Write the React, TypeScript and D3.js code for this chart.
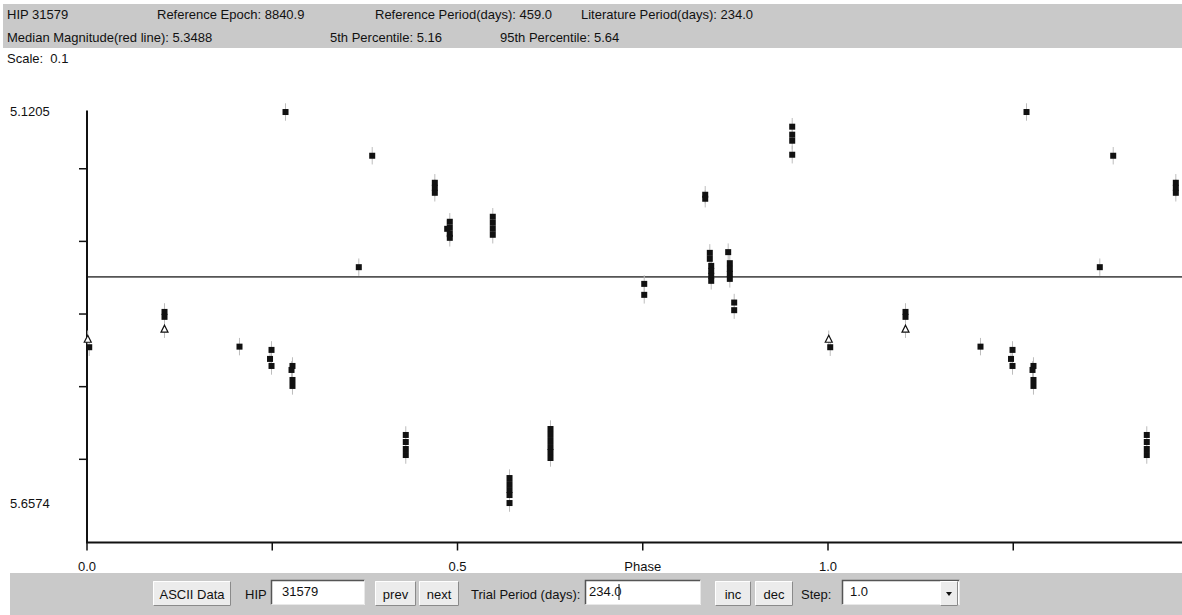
import React, { useEffect, useRef } from 'react';
import * as d3 from 'd3';

// phase-folded light curve of HIP 31579 (phase 0..1); points are repeated at phase+1
const squarePhase = [
  0.003, 0.1046, 0.1046, 0.2058, 0.249, 0.247, 0.249, 0.2773, 0.276, 0.2773, 0.2773,
  0.2679, 0.3668, 0.3849, 0.4694, 0.4694, 0.4694, 0.4896, 0.4896, 0.4896, 0.4896, 0.4861,
  0.5476, 0.5476, 0.5476, 0.5476, 0.4302, 0.4302, 0.4302, 0.4302,
  0.5702, 0.5702, 0.5702, 0.5702, 0.5702, 0.6255, 0.6255, 0.6255, 0.6255, 0.6255, 0.6255,
  0.752, 0.752, 0.8343, 0.8343, 0.8405, 0.8405, 0.8424, 0.8424, 0.8424, 0.8424,
  0.8653, 0.8675, 0.8675, 0.8675, 0.8675, 0.8734, 0.8734, 0.9517, 0.9517, 0.9517, 0.9517,
];
const squareMag = [
  5.4457, 5.3971, 5.4039, 5.4449, 5.4494, 5.4618, 5.4715, 5.4715, 5.477, 5.4908, 5.499,
  5.1219, 5.3355, 5.1821, 5.2193, 5.2262, 5.2331, 5.273, 5.2813, 5.2896, 5.2951, 5.2827,
  5.2661, 5.2744, 5.2827, 5.2909, 5.5665, 5.5762, 5.5858, 5.5941,
  5.6258, 5.6341, 5.6423, 5.6492, 5.6602, 5.5583, 5.5665, 5.5748, 5.5831, 5.59, 5.5982,
  5.3585, 5.3736, 5.2358, 5.2413, 5.3158, 5.324, 5.3337, 5.3406, 5.3474, 5.3543,
  5.3148, 5.33, 5.3378, 5.3447, 5.3516, 5.3842, 5.3947, 5.1421, 5.1531, 5.1614, 5.1807,
];
const trianglePhase = [0.001, 0.1046];
const triangleMag = [5.4347, 5.4209];

const magTop = 5.1205;
const magBottom = 5.6574;
const medianMag = 5.3488;
const magTicks = [5.2, 5.3, 5.4, 5.5, 5.6];
const phaseTicks = [0, 0.25, 0.5, 0.75, 1.0, 1.25, 1.5];
const phaseLabels: Record<string, string> = { '0': '0.0', '0.5': '0.5', '0.75': 'Phase', '1': '1.0' };

const headerRow1 = [
  { x: 7, t: 'HIP 31579' },
  { x: 157, t: 'Reference Epoch: 8840.9' },
  { x: 375, t: 'Reference Period(days): 459.0' },
  { x: 581, t: 'Literature Period(days): 234.0' },
];
const headerRow2 = [
  { x: 7, t: 'Median Magnitude(red line): 5.3488' },
  { x: 330, t: '5th Percentile: 5.16' },
  { x: 500, t: '95th Percentile: 5.64' },
];

const W = 1182;
const H = 615;
const FONT = '"Liberation Sans", Arial, sans-serif';

export default function App() {
  const ref = useRef<SVGSVGElement | null>(null);

  useEffect(() => {
    if (!ref.current) return;
    const svg = d3.select(ref.current);
    svg.selectAll('*').remove();
    svg.attr('viewBox', `0 0 ${W} ${H}`).style('font-family', FONT).style('font-size', '13px');

    const x = d3.scaleLinear().domain([0, 1]).range([87, 828]);
    const y = d3.scaleLinear().domain([magTop, magBottom]).range([111, 501]);
    const axisY = 542.5;
    const xMax = x.invert(W);

    svg.append('rect').attr('width', W).attr('height', H).attr('fill', '#fff');

    // header panel
    svg.append('rect').attr('x', 3).attr('y', 4).attr('width', W - 3).attr('height', 44).attr('fill', '#c9c9c9');
    svg.selectAll('.h1').data(headerRow1).join('text')
      .attr('x', d => d.x).attr('y', 19).attr('fill', '#111').text(d => d.t);
    svg.selectAll('.h2').data(headerRow2).join('text')
      .attr('x', d => d.x).attr('y', 42).attr('fill', '#111').text(d => d.t);
    svg.append('text').attr('x', 7).attr('y', 63).attr('fill', '#111').text('Scale:  0.1').attr('xml:space', 'preserve');

    // plot
    const g = svg.append('g');
    const clip = svg.append('clipPath').attr('id', 'plotclip');
    clip.append('rect').attr('x', 80).attr('y', 100).attr('width', W - 80).attr('height', 450);

    // median line
    g.append('line')
      .attr('x1', 87).attr('x2', W).attr('y1', y(medianMag)).attr('y2', y(medianMag))
      .attr('stroke', '#555').attr('stroke-width', 1.6);

    // axes
    g.append('line').attr('x1', 87).attr('x2', 87).attr('y1', 110.5).attr('y2', axisY)
      .attr('stroke', '#111').attr('stroke-width', 2);
    g.append('line').attr('x1', 86).attr('x2', W).attr('y1', axisY).attr('y2', axisY)
      .attr('stroke', '#111').attr('stroke-width', 2);

    g.selectAll('.ytick').data(magTicks).join('line')
      .attr('x1', 79).attr('x2', 87).attr('y1', d => y(d)).attr('y2', d => y(d))
      .attr('stroke', '#111').attr('stroke-width', 1.5);
    g.append('text').attr('x', 10).attr('y', y(magTop) + 4.5).text('5.1205').attr('fill', '#111');
    g.append('text').attr('x', 10).attr('y', y(magBottom) + 6.5).text('5.6574').attr('fill', '#111');

    const xt = phaseTicks.filter(p => x(p) <= W);
    g.selectAll('.xtick').data(xt).join('line')
      .attr('x1', d => x(d)).attr('x2', d => x(d)).attr('y1', axisY).attr('y2', axisY + 8)
      .attr('stroke', '#111').attr('stroke-width', 1.5);
    g.selectAll('.xlab').data(xt.filter(p => phaseLabels[String(p)])).join('text')
      .attr('x', d => x(d)).attr('y', 571).attr('text-anchor', 'middle').attr('fill', '#111')
      .text(d => phaseLabels[String(d)]);

    // fold: repeat every point one cycle later while it stays on screen
    const fold = (ph: number[], mg: number[]) => {
      const out: { p: number; m: number }[] = [];
      ph.forEach((p, i) => {
        out.push({ p, m: mg[i] });
        if (p + 1 <= xMax) out.push({ p: p + 1, m: mg[i] });
      });
      return out;
    };
    const squares = fold(squarePhase, squareMag);
    const triangles = fold(trianglePhase, triangleMag);

    const pts = g.append('g').attr('clip-path', 'url(#plotclip)');
    pts.selectAll('.err').data([...squares, ...triangles]).join('line')
      .attr('x1', d => x(d.p)).attr('x2', d => x(d.p))
      .attr('y1', d => y(d.m - 0.012)).attr('y2', d => y(d.m + 0.012))
      .attr('stroke', '#bdbdbd').attr('stroke-width', 1);
    pts.selectAll('.sq').data(squares).join('rect')
      .attr('x', d => x(d.p) - 3).attr('y', d => y(d.m) - 3)
      .attr('width', 6).attr('height', 6).attr('fill', '#111');
    pts.selectAll('.tri').data(triangles).join('path')
      .attr('d', d => {
        const cx = x(d.p), cy = y(d.m);
        return `M${cx},${cy - 4}L${cx + 3.5},${cy + 3}L${cx - 3.5},${cy + 3}Z`;
      })
      .attr('fill', '#fff').attr('stroke', '#111').attr('stroke-width', 1.2);

    // control bar
    const bar = svg.append('g');
    bar.append('rect').attr('x', 10).attr('y', 573).attr('width', W - 10).attr('height', H - 573).attr('fill', '#c9c9c9');

    const button = (bx: number, bw: number, label: string) => {
      const b = bar.append('g');
      b.append('rect').attr('x', bx).attr('y', 581).attr('width', bw).attr('height', 25).attr('fill', '#ececec');
      b.append('path').attr('d', `M${bx + 0.5},${605.5}V${581.5}H${bx + bw - 0.5}`).attr('fill', 'none').attr('stroke', '#fff');
      b.append('path').attr('d', `M${bx + 0.5},${605.5}H${bx + bw - 0.5}V${581.5}`).attr('fill', 'none').attr('stroke', '#8a8a8a');
      b.append('text').attr('x', bx + bw / 2).attr('y', 598.5).attr('text-anchor', 'middle').attr('fill', '#111').text(label);
    };
    const field = (fx: number, fw: number, label: string, tx = 4) => {
      const f = bar.append('g');
      f.append('rect').attr('x', fx).attr('y', 580).attr('width', fw).attr('height', 25).attr('fill', '#fff');
      f.append('path').attr('d', `M${fx + 0.5},${604.5}V${580.5}H${fx + fw - 0.5}`).attr('fill', 'none').attr('stroke', '#555').attr('stroke-width', 1.5);
      f.append('path').attr('d', `M${fx + 0.5},${604.5}H${fx + fw - 0.5}V${580.5}`).attr('fill', 'none').attr('stroke', '#e8e8e8');
      f.append('text').attr('x', fx + tx).attr('y', 596).attr('fill', '#111').text(label);
      return f;
    };
    const label = (lx: number, t: string) =>
      bar.append('text').attr('x', lx).attr('y', 598.5).attr('fill', '#111').text(t);

    button(153, 78, 'ASCII Data');
    label(245, 'HIP');
    field(271, 94, '31579', 11);
    button(375, 41, 'prev');
    button(419, 40, 'next');
    label(471, 'Trial Period (days):');
    const tp = field(585, 116, '234.0');
    tp.append('line').attr('x1', 619).attr('x2', 619).attr('y1', 584).attr('y2', 600).attr('stroke', '#111');
    button(715, 36, 'inc');
    button(755, 38, 'dec');
    label(801, 'Step:');
    field(842, 118, '1.0', 8);
    button(940, 18, '');
    bar.append('path').attr('d', 'M946,592L952,592L949,596Z').attr('fill', '#111');
  }, []);

  return (
    <div style={{ position: 'absolute', left: 0, top: 0 }}>
      <svg ref={ref} width={W} height={H}></svg>
    </div>
  );
}
